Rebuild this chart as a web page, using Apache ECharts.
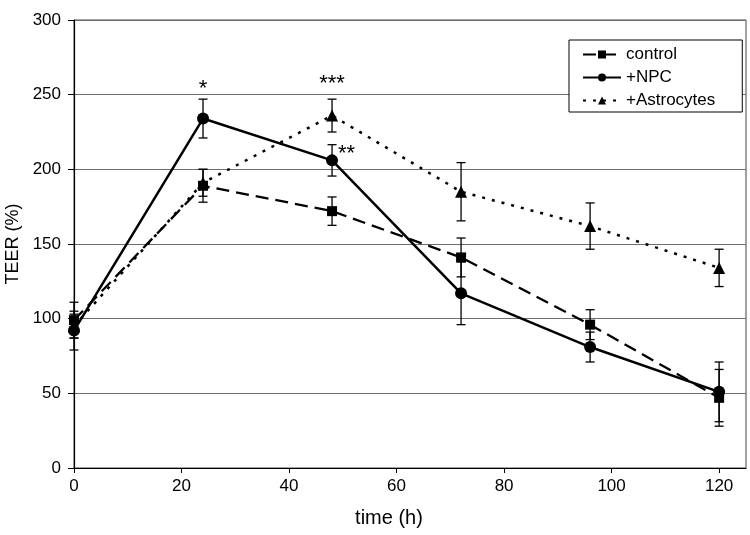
<!DOCTYPE html>
<html>
<head>
<meta charset="utf-8">
<script src="https://cdn.jsdelivr.net/npm/echarts@6/dist/echarts.min.js"></script>
<style>
html,body{margin:0;padding:0;background:#fff;}
#chart{width:750px;height:535px;}
</style>
</head>
<body>
<div id="chart"></div>
<script>
// ---- data ----
var times = [0, 24, 48, 72, 96, 120];
var xTicks = [0, 20, 40, 60, 80, 100, 120];
var yTicks = [0, 50, 100, 150, 200, 250, 300];

var controlVals = [99, 189, 172, 141, 96, 47];
var controlErr  = [12, 11, 9.5, 13, 10, 19];

var npcVals = [92, 234, 206, 117, 81, 51];
var npcErr  = [13, 13, 10.5, 21, 10, 20];

var astroVals = [95, 191, 236, 185, 162, 134];
var astroErr  = [8, 9, 11, 19.5, 15.5, 12.5];

var npcMarks   = ['', '*', '**', '', '', ''];
var astroMarks = ['', '', '***', '', '', ''];

// ---- build ----
var FONT = 'Liberation Sans, Arial, sans-serif';

function pts(vals, marks, labelCfg) {
  return times.map(function (t, i) {
    var item = { value: [t, vals[i]] };
    if (marks && marks[i]) {
      var cfg = labelCfg[marks[i]];
      item.label = Object.assign({
        show: true, formatter: marks[i], color: '#000',
        fontSize: 22, fontFamily: FONT
      }, cfg);
    }
    return item;
  });
}

function errData(vals, errs) {
  return times.map(function (t, i) { return [t, vals[i] - errs[i], vals[i] + errs[i]]; });
}

function errSeries(name, vals, errs) {
  return {
    type: 'custom',
    name: name + '_err',
    silent: true,
    z: 1,
    data: errData(vals, errs),
    renderItem: function (params, api) {
      var lo = api.coord([api.value(0), api.value(1)]);
      var hi = api.coord([api.value(0), api.value(2)]);
      var w = 4.5;
      var st = { stroke: '#000', lineWidth: 1.3 };
      return {
        type: 'group',
        children: [
          { type: 'line', shape: { x1: lo[0], y1: lo[1], x2: hi[0], y2: hi[1] }, style: st },
          { type: 'line', shape: { x1: lo[0] - w, y1: lo[1], x2: lo[0] + w, y2: lo[1] }, style: st },
          { type: 'line', shape: { x1: hi[0] - w, y1: hi[1], x2: hi[0] + w, y2: hi[1] }, style: st }
        ]
      };
    }
  };
}

var labelCfg = {
  '*':   { position: 'top', distance: 13 },
  '**':  { position: 'right', distance: 0, offset: [0, -6] },
  '***': { position: 'top', distance: 15 }
};

var chart = echarts.init(document.getElementById('chart'), null, { renderer: 'canvas' });

chart.setOption({
  animation: false,
  backgroundColor: '#fff',
  textStyle: { fontFamily: FONT, color: '#000' },
  grid: {
    left: 74, right: 4, top: 20, bottom: 67,
    outerBoundsMode: 'none',
    containLabel: false,
    show: true, borderColor: '#444', borderWidth: 1, backgroundColor: 'transparent'
  },
  legend: {
    orient: 'vertical',
    left: 569, top: 40,
    padding: [6, 27, 3, 13],
    itemGap: 6,
    itemWidth: 38,
    itemHeight: 10,
    backgroundColor: '#fff',
    borderColor: '#000',
    borderWidth: 1,
    borderRadius: 0,
    textStyle: { fontSize: 17, color: '#000', fontFamily: FONT },
    data: ['control', '+NPC', '+Astrocytes']
  },
  xAxis: {
    type: 'value',
    min: 0, max: 125, interval: 20,
    name: 'time (h)',
    nameLocation: 'middle',
    nameGap: 40,
    nameTextStyle: { fontSize: 20, color: '#000', fontFamily: FONT, padding: [0, 42, 0, 0] },
    axisLine: { show: true, lineStyle: { color: '#000', width: 1.2 } },
    axisTick: { show: true, inside: false, length: 5, lineStyle: { color: '#000' }, customValues: xTicks },
    axisLabel: { fontSize: 17, color: '#000', margin: 10, fontFamily: FONT, customValues: xTicks },
    splitLine: { show: false }
  },
  yAxis: {
    type: 'value',
    min: 0, max: 300, interval: 50,
    name: 'TEER (%)',
    nameLocation: 'middle',
    nameGap: 51,
    nameTextStyle: { fontSize: 18, color: '#000', fontFamily: FONT },
    axisLine: { show: true, lineStyle: { color: '#000', width: 1.2 } },
    axisTick: { show: true, inside: false, length: 6, lineStyle: { color: '#000' }, customValues: yTicks },
    axisLabel: { fontSize: 17, color: '#000', margin: 13, fontFamily: FONT, customValues: yTicks },
    splitLine: { show: true, lineStyle: { color: '#6f6f6f', width: 1.2 } }
  },
  series: [
    errSeries('control', controlVals, controlErr),
    errSeries('+NPC', npcVals, npcErr),
    errSeries('+Astrocytes', astroVals, astroErr),
    {
      type: 'line', name: 'control', z: 3,
      data: pts(controlVals),
      symbol: 'rect', symbolSize: 10,
      itemStyle: { color: '#000' },
      lineStyle: { color: '#000', width: 2.3, type: [13, 7] }
    },
    {
      type: 'line', name: '+NPC', z: 4,
      data: pts(npcVals, npcMarks, labelCfg),
      symbol: 'circle', symbolSize: 12,
      itemStyle: { color: '#000' },
      lineStyle: { color: '#000', width: 2.5, type: 'solid' }
    },
    {
      type: 'line', name: '+Astrocytes', z: 3,
      data: pts(astroVals, astroMarks, labelCfg),
      symbol: 'triangle', symbolSize: 12,
      itemStyle: { color: '#000' },
      lineStyle: { color: '#000', width: 2.5, type: [3, 7] }
    }
  ]
});
</script>
</body>
</html>
